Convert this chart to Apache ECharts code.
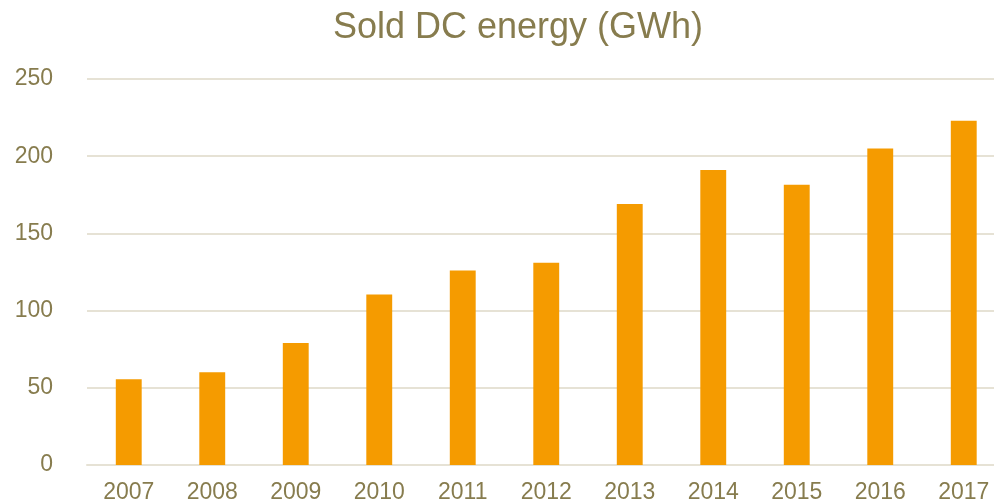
<!DOCTYPE html>
<html>
<head>
<meta charset="utf-8">
<script src="https://cdn.jsdelivr.net/npm/echarts@6/dist/echarts.min.js"></script>
<style>html,body{margin:0;padding:0;background:#fff}#c{width:994px;height:503px}</style>
</head>
<body>
<div id="c"></div>
<script>
var titleText = 'Sold DC energy (GWh)';
var years = ['2007','2008','2009','2010','2011','2012','2013','2014','2015','2016','2017'];
var soldEnergy = [55.5, 60, 79, 110.5, 126, 131, 169, 191, 181.5, 205, 223];
var yTicks = [0, 50, 100, 150, 200, 250];

var textColor = '#877C4E';
var chart = echarts.init(document.getElementById('c'), null, {renderer: 'canvas'});
chart.setOption({
  animation: false,
  backgroundColor: '#ffffff',
  title: {
    text: titleText,
    left: 513,
    top: 5,
    textAlign: 'center',
    textStyle: {fontFamily: 'Liberation Sans, Arial, sans-serif', fontSize: 36, fontWeight: 'normal', color: textColor}
  },
  grid: {left: 87, width: 918.5, top: 79, bottom: 38, outerBoundsMode: 'none', containLabel: false},
  xAxis: {
    type: 'category',
    data: years,
    axisLine: {show: true, lineStyle: {color: '#E6E2D5', width: 2}},
    axisTick: {show: false},
    axisLabel: {color: textColor, fontSize: 23, fontFamily: 'Liberation Sans, Arial, sans-serif', margin: 16}
  },
  yAxis: {
    type: 'value',
    min: yTicks[0],
    max: yTicks[yTicks.length - 1],
    interval: 50,
    axisLine: {show: false},
    axisTick: {show: false},
    splitLine: {lineStyle: {color: '#E6E2D5', width: 2}},
    axisLabel: {color: textColor, fontSize: 23, fontFamily: 'Liberation Sans, Arial, sans-serif', margin: 34}
  },
  series: [{
    type: 'bar',
    data: soldEnergy,
    barWidth: '31%',
    itemStyle: {color: '#F59B00'}
  }]
});
</script>
</body>
</html>
